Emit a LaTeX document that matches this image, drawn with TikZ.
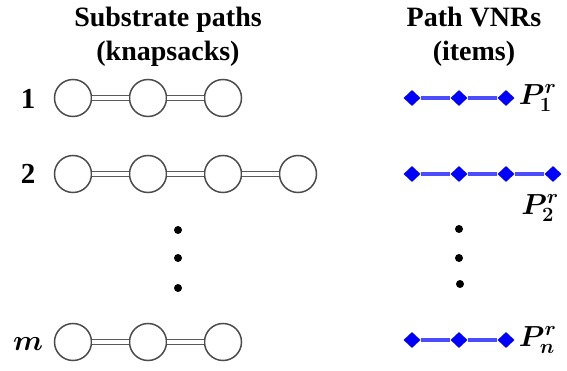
\RequirePackage{fix-cm}
\documentclass[tikz,border=0pt]{standalone}
\usepackage{amsmath,amssymb}
\usepackage{bm}
\usepackage{fontspec}
\setmainfont{Liberation Serif}
\usetikzlibrary{positioning, shapes.geometric}
\tikzstyle{snode} = [circle, minimum size=37pt, inner sep=0pt, draw=black!70, line width=1.5pt, fill=white]
\tikzstyle{slink} = [draw=black!65, line width=1.3pt, double=white, double distance=3.5pt]
\tikzstyle{vnode} = [diamond, minimum width=17pt, minimum height=16pt, inner sep=0pt, fill=blue]
\tikzstyle{vlink} = [draw=blue, draw opacity=0.7, line width=4pt]
\tikzstyle{title} = [font=\fontsize{28}{34}\selectfont\bfseries, align=center]
\tikzstyle{lbl} = [font=\fontsize{29}{34}\selectfont, inner sep=0pt]
\tikzstyle{dot} = [circle, fill=black, minimum size=8pt, inner sep=0pt]

\begin{document}
\begin{tikzpicture}[x=1pt, y=1pt, node distance=75pt]
    \useasboundingbox (0,0) rectangle (567,-371);

    % Titles
    \node (subTitle) [title] at (168,-37) {Substrate paths\\(knapsacks)};
    \node (vnrTitle) [title] at (474,-37) {Path VNRs\\(items)};

    % Substrate paths
    \node (lab1) [lbl] at (28,-99) {$\mathbf{1}$};
    \node (s11) [snode] at (73,-98) {};
    \node (s12) [snode, right of=s11] {};
    \node (s13) [snode, right of=s12] {};
    \draw [slink] (s11) -- (s12);
    \draw [slink] (s12) -- (s13);

    \node (lab2) [lbl] at (28,-174) {$\mathbf{2}$};
    \node (s21) [snode] at (73,-174) {};
    \node (s22) [snode, right of=s21] {};
    \node (s23) [snode, right of=s22] {};
    \node (s24) [snode, right of=s23] {};
    \draw [slink] (s21) -- (s22);
    \draw [slink] (s22) -- (s23);
    \draw [slink] (s23) -- (s24);

    \node (labm) [lbl] at (28,-344) {$\bm{m}$};
    \node (sm1) [snode] at (73,-342) {};
    \node (sm2) [snode, right of=sm1] {};
    \node (sm3) [snode, right of=sm2] {};
    \draw [slink] (sm1) -- (sm2);
    \draw [slink] (sm2) -- (sm3);

    % Dots
    \node (ldot1) [dot] at (178,-230) {};
    \node (ldot2) [dot] at (178,-258) {};
    \node (ldot3) [dot] at (178,-288) {};
    \node (rdot1) [dot] at (459,-229) {};
    \node (rdot2) [dot] at (459,-258) {};
    \node (rdot3) [dot] at (460,-284) {};

    % Path VNRs
    \node (v11) [vnode] at (412,-98) {};
    \node (v12) [vnode, right of=v11, node distance=47pt] {};
    \node (v13) [vnode, right of=v12, node distance=47pt] {};
    \draw [vlink] (v11) -- (v12);
    \draw [vlink] (v12) -- (v13);
    \node (p1) [lbl, right=4pt of v13] {$\bm{P_1^r}$};

    \node (v21) [vnode] at (412,-174) {};
    \node (v22) [vnode, right of=v21, node distance=47pt] {};
    \node (v23) [vnode, right of=v22, node distance=47pt] {};
    \node (v24) [vnode, right of=v23, node distance=47pt] {};
    \draw [vlink] (v21) -- (v22);
    \draw [vlink] (v22) -- (v23);
    \draw [vlink] (v23) -- (v24);
    \node (p2) [lbl, below=12pt of v24, xshift=-13pt] {$\bm{P_2^r}$};

    \node (vn1) [vnode] at (412,-340) {};
    \node (vn2) [vnode, right of=vn1, node distance=47pt] {};
    \node (vn3) [vnode, right of=vn2, node distance=47pt] {};
    \draw [vlink] (vn1) -- (vn2);
    \draw [vlink] (vn2) -- (vn3);
    \node (pn) [lbl, right=4pt of vn3] {$\bm{P_n^r}$};

\end{tikzpicture}
\end{document}
